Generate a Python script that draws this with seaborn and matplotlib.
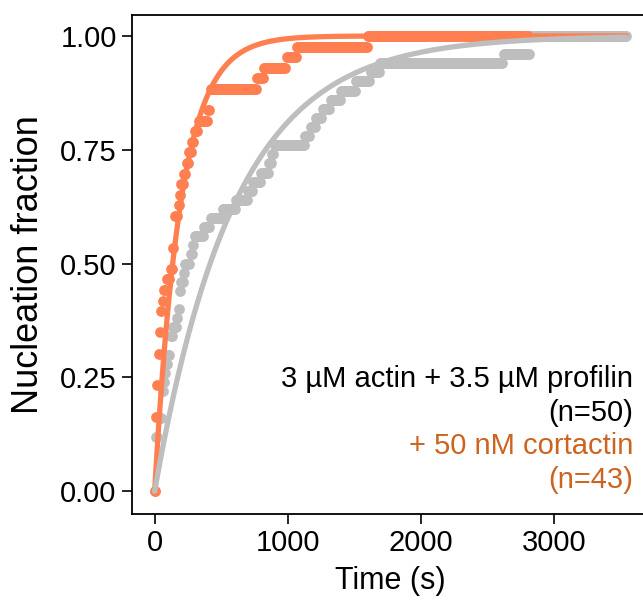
import numpy as np
import pandas as pd
import matplotlib
matplotlib.use("Agg")
import matplotlib.pyplot as plt
import seaborn as sns

# ---- data ----
# nucleation event times (s), control: 3 uM actin + 3.5 uM profilin (n=50)
control_events = [3, 4, 5, 6, 9, 10, 22, 25, 55, 58, 60, 62, 78, 82, 95, 115, 120,
                  140, 165, 178, 182, 185, 200, 215, 225, 270, 285, 292, 370, 420,
                  510, 605, 700, 735, 795, 855, 880, 895, 1130, 1170, 1205, 1260,
                  1320, 1395, 1505, 1620, 1690, 2614, 2816, 2816]
control_end = 3540
# + 50 nM cortactin (n=43)
cortactin_events = [3, 5, 6, 7, 8, 8, 10, 11, 12, 18, 22, 26, 28, 32, 40, 45, 48,
                    60, 68, 82, 118, 132, 138, 142, 146, 150, 172, 182, 196, 212,
                    232, 255, 280, 295, 330, 395, 412, 420, 770, 820, 990, 1070, 1600]
cortactin_end = 2800
frame_interval = 10  # s

# exponential fit time constants (s)
tau_control = 600
tau_cortactin = 195

x_ticks = [0, 1000, 2000, 3000]
y_ticks = [0.00, 0.25, 0.50, 0.75, 1.00]

c_control = "#BEBEBE"
c_cort = "#FF7F50"
c_cort_text = "#CC6420"

def ecdf_frame(events, end, name):
    ev = np.sort(np.asarray(events, float))
    t = np.arange(0, end + frame_interval, frame_interval, dtype=float)
    frac = np.searchsorted(ev, t, side="right") / len(ev)
    return pd.DataFrame({"time": t, "fraction": frac, "cond": name})

df_c = ecdf_frame(control_events, control_end, "control")
df_o = ecdf_frame(cortactin_events, cortactin_end, "cortactin")

tfit = np.linspace(0, 3540, 400)
fit_c = pd.DataFrame({"time": tfit, "fraction": 1 - np.exp(-tfit / tau_control)})
fit_o = pd.DataFrame({"time": tfit, "fraction": 1 - np.exp(-tfit / tau_cortactin)})

sns.set_theme(style="ticks")
plt.rcParams["font.family"] = ["Liberation Sans", "DejaVu Sans"]

fig = plt.figure(figsize=(6.43, 6.0), dpi=100)
ax = fig.add_axes([132 / 643, 86 / 600, (649 - 132) / 643, (514 - 15) / 600])

sns.scatterplot(data=df_c, x="time", y="fraction", color=c_control, s=60,
                linewidth=0, ax=ax, zorder=2, legend=False)
sns.scatterplot(data=df_o, x="time", y="fraction", color=c_cort, s=60,
                linewidth=0, ax=ax, zorder=3, legend=False)
sns.lineplot(data=fit_o, x="time", y="fraction", color=c_cort, linewidth=3.8,
             ax=ax, zorder=4)
sns.lineplot(data=fit_c, x="time", y="fraction", color=c_control, linewidth=3.8,
             ax=ax, zorder=4)

ax.set_xlim(-170, 3710)
ax.set_ylim(-0.05, 1.046)
ax.set_xticks(x_ticks)
ax.set_yticks(y_ticks)
ax.set_yticklabels([f"{v:.2f}" for v in y_ticks])
ax.set_xlabel("Time (s)", fontsize=22, color="black", labelpad=6)
ax.set_ylabel("Nucleation fraction", fontsize=26, color="black", labelpad=10)
ax.tick_params(axis="both", labelsize=21, length=7, width=1.2, colors="black",
               direction="out", pad=4)
for side in ["left", "bottom", "top"]:
    ax.spines[side].set_visible(True)
    ax.spines[side].set_linewidth(1.3)
    ax.spines[side].set_color("black")
ax.spines["right"].set_visible(False)

txt_kw = dict(transform=ax.transAxes, ha="right", va="center", fontsize=21)
xr = (633 - 132) / (649 - 132)
def yax(py):
    return (514 - py) / (514 - 15)
ax.text(xr, yax(379), "3 µM actin + 3.5 µM profilin", color="black", **txt_kw)
ax.text(xr, yax(413), "(n=50)", color="black", **txt_kw)
ax.text(xr, yax(446), "+ 50 nM cortactin", color=c_cort_text, **txt_kw)
ax.text(xr, yax(480), "(n=43)", color=c_cort_text, **txt_kw)

fig.savefig("out.png", dpi=100)
